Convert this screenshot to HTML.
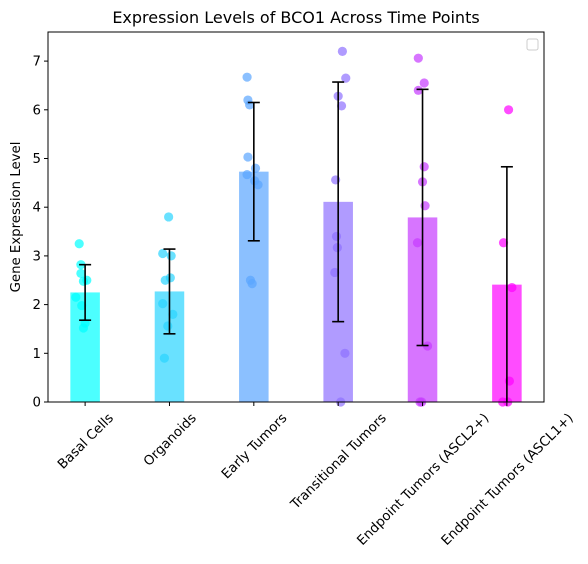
<!DOCTYPE html>
<html><head><meta charset="utf-8"><style>
body{margin:0;background:#fff}
svg{display:block;font-family:"DejaVu Sans","Liberation Sans",sans-serif}
</style></head><body>
<svg id="c" width="588" height="564">
</svg>
<script>
const categories=["Basal Cells","Organoids","Early Tumors","Transitional Tumors","Endpoint Tumors (ASCL2+)","Endpoint Tumors (ASCL1+)"];
const means=[2.25,2.27,4.73,4.11,3.79,2.41];
const errs=[0.57,0.87,1.42,2.46,2.63,2.42];
const points=[
[3.25,2.82,2.64,2.5,2.48,2.15,1.98,1.62,1.52],
[3.8,3.05,3.0,2.55,2.5,2.02,1.8,1.56,0.9],
[6.67,6.2,6.1,5.03,4.8,4.67,4.54,4.46,2.5,2.43],
[7.2,6.65,6.28,6.08,4.56,3.4,3.17,2.66,1.0,0],
[7.06,6.55,6.4,4.83,4.52,4.03,3.27,1.15,0,0],
[6.0,3.27,2.35,0.43,0,0]
];
const jitter=[
[-0.07,-0.05,-0.05,0.02,-0.02,-0.11,-0.04,0.0,-0.02],
[-0.01,-0.08,0.02,0.01,-0.05,-0.08,0.04,-0.02,-0.06],
[-0.08,-0.07,-0.05,-0.07,0.02,-0.08,0.01,0.05,-0.04,-0.02],
[0.05,0.09,0.0,0.04,-0.03,-0.02,-0.01,-0.04,0.08,0.03],
[-0.05,0.02,-0.05,0.02,0.0,0.03,-0.06,0.06,-0.03,-0.01],
[0.02,-0.04,0.06,0.03,-0.05,0.01]
];
const yTicks=[0,1,2,3,4,5,6,7];
const colors=["#00ffff","#2ad4ff","#5aa5ff","#8f70ff","#c63aff","#ff00ff"];
const L=48,R=544,T=32,B=402;
const step=(R-L)/5.88;
const xs=i=>L+(i+0.44)*step;
const ys=v=>B-v*48.7;
const NS="http://www.w3.org/2000/svg";
const svg=document.getElementById('c');
function el(tag,attrs,parent){const e=document.createElementNS(NS,tag);for(const k in attrs)e.setAttribute(k,attrs[k]);(parent||svg).appendChild(e);return e;}
const bw=step*0.35;
categories.forEach((c,i)=>{
 const cx=xs(i);
 const b=el('rect',{x:cx-bw/2,y:ys(means[i]),width:bw,height:B-ys(means[i]),fill:colors[i],'fill-opacity':0.7});
 
 
 points[i].forEach((v,j)=>{
  const p=el('circle',{cx:xs(i+jitter[i][j]),cy:ys(v),r:4.6,fill:colors[i],'fill-opacity':0.7});
  
  
 });
});
const clip=el('clipPath',{id:'cp'});el('rect',{x:L,y:T,width:R-L,height:B-T},clip);
categories.forEach((c,i)=>{
 const cx=xs(i),top=ys(means[i]+errs[i]),bot=ys(means[i]-errs[i]);
 const g=el('g',{stroke:'#000','stroke-width':1.6,'clip-path':'url(#cp)'});
 
 
 el('line',{x1:cx,x2:cx,y1:top,y2:bot},g);
 el('line',{x1:cx-6,x2:cx+6,y1:top,y2:top},g);
 el('line',{x1:cx-6,x2:cx+6,y1:bot,y2:bot},g);
});
el('rect',{x:L,y:T,width:R-L,height:B-T,fill:'none',stroke:'#000','stroke-width':1});
yTicks.forEach(t=>{
 el('line',{x1:L-4,x2:L,y1:ys(t),y2:ys(t),stroke:'#000'});
 const tx=el('text',{x:L-7,y:ys(t)+4.5,'text-anchor':'end','font-size':13.3});tx.textContent=t;
 
 
});
categories.forEach((c,i)=>{
 const cx=xs(i);
 el('line',{x1:cx,x2:cx,y1:B,y2:B+4,stroke:'#000'});
 const tx=el('text',{'text-anchor':'middle','font-size':13.3});
 tx.textContent=c;
 
 
 const len=tx.getComputedTextLength();
 const cy=410+(len+15)*0.707/2;
 tx.setAttribute('x',cx);tx.setAttribute('y',cy+4.8);
 tx.setAttribute('transform',`rotate(-45 ${cx} ${cy})`);
});
const title=el('text',{x:(L+R)/2,y:23,'text-anchor':'middle','font-size':16});
title.textContent="Expression Levels of BCO1 Across Time Points";


const yl=el('text',{x:0,y:0,'text-anchor':'middle','font-size':13.3,transform:`translate(20 ${(T+B)/2}) rotate(-90)`});
yl.textContent="Gene Expression Level";


const lg=el('rect',{x:527,y:39,width:11,height:11,rx:2,fill:'#fff',stroke:'#ccc'});


</script>
</body></html>
